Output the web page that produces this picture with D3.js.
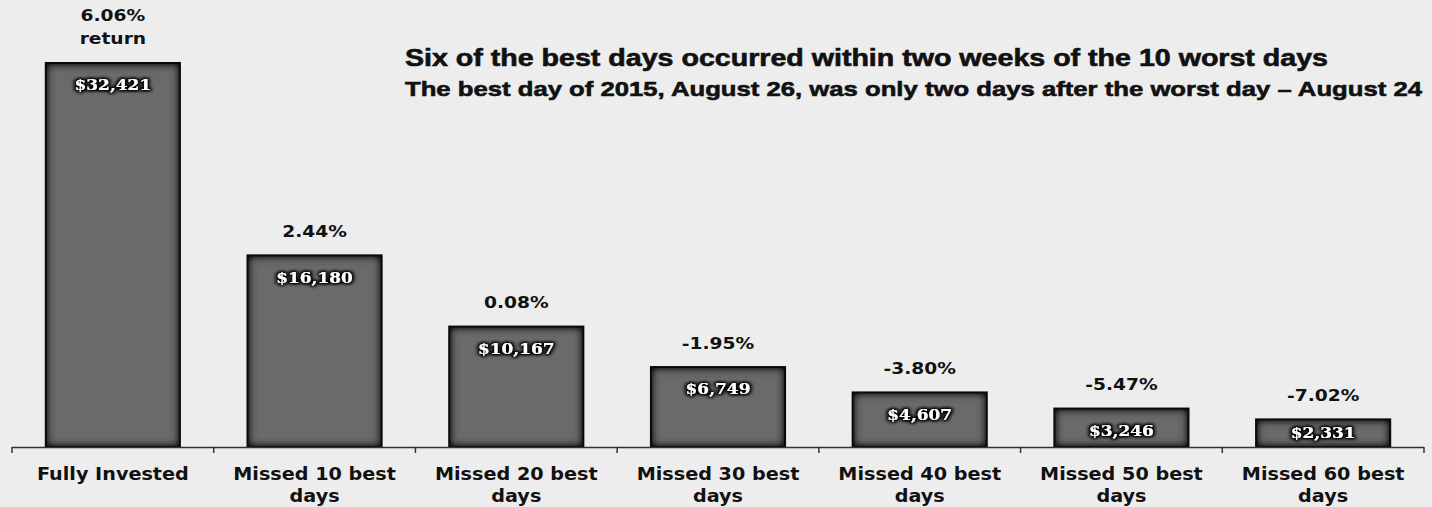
<!DOCTYPE html>
<html>
<head>
<meta charset="utf-8">
<script src="https://cdn.jsdelivr.net/npm/d3@7"></script>
<style>
  body { margin: 0; background: #ededed; }
  svg { display: block; }
</style>
</head>
<body>
<div id="container"></div>
<script>
const categories = ["Fully Invested", "Missed 10 best days", "Missed 20 best days", "Missed 30 best days",
    "Missed 40 best days", "Missed 50 best days", "Missed 60 best days"]
const values = [32421, 16180, 10167, 6749, 4607, 3246, 2331]
const returns = ["6.06%", "2.44%", "0.08%", "-1.95%", "-3.80%", "-5.47%", "-7.02%"]
const titleLines = ["Six of the best days occurred within two weeks of the 10 worst days",
    "The best day of 2015,  August 26, was only two days after the worst day \u2013 August 24"]

const width = 1432, height = 507
const baseY = 447
const stretch = 1.13   // the picture's text looks widened

const svg = d3.select("#container").append("svg")
    .attr("width", width)
    .attr("height", height)

svg.append("rect").attr("width", width).attr("height", height).attr("fill", "#ededed")

const defs = svg.append("defs")

// inner shadow for the bars
const inner = defs.append("filter").attr("id", "inner")
    .attr("filterUnits", "userSpaceOnUse")
    .attr("x", 0).attr("y", 0).attr("width", width).attr("height", height)
inner.append("feComponentTransfer").attr("in", "SourceAlpha").attr("result", "inv")
    .append("feFuncA").attr("type", "table").attr("tableValues", "1 0")
inner.append("feGaussianBlur").attr("in", "inv").attr("stdDeviation", 4).attr("result", "blur")
inner.append("feComposite").attr("in", "blur").attr("in2", "SourceAlpha").attr("operator", "in").attr("result", "shadow")
const im = inner.append("feMerge")
im.append("feMergeNode").attr("in", "SourceGraphic")
im.append("feMergeNode").attr("in", "shadow")
im.append("feMergeNode").attr("in", "shadow")
im.append("feMergeNode").attr("in", "shadow")

// dark glow behind white value labels
const glow = defs.append("filter").attr("id", "glow")
    .attr("x", "-20%").attr("y", "-50%").attr("width", "140%").attr("height", "200%")
glow.append("feMorphology").attr("in", "SourceAlpha").attr("operator", "dilate").attr("radius", 1).attr("result", "thick")
glow.append("feGaussianBlur").attr("in", "thick").attr("stdDeviation", 1.8).attr("result", "blur")
const gm = glow.append("feMerge")
gm.append("feMergeNode").attr("in", "blur")
gm.append("feMergeNode").attr("in", "blur")
gm.append("feMergeNode").attr("in", "SourceGraphic")

const x = d3.scaleBand()
    .domain(categories)
    .range([12, 1424])
    .paddingInner(0.335)
    .paddingOuter(0.1675)

const y = d3.scaleLinear()
    .domain([0, 32421])
    .range([baseY, 63])

const cx = c => x(c) + x.bandwidth() / 2
const data = categories.map((c, i) => ({cat: c, value: values[i], ret: returns[i]}))

// bars: each one filtered on its own so the shadow sits inside it
svg.append("g")
    .selectAll("rect")
    .data(data)
    .join("rect")
    .attr("x", d => x(d.cat))
    .attr("y", d => y(d.value))
    .attr("width", x.bandwidth())
    .attr("height", d => baseY - y(d.value))
    .attr("fill", "#6b6b6b")
    .attr("filter", "url(#inner)")

svg.append("g")
    .selectAll("rect")
    .data(data)
    .join("rect")
    .attr("x", d => x(d.cat))
    .attr("y", d => y(d.value))
    .attr("width", x.bandwidth())
    .attr("height", d => baseY - y(d.value))
    .attr("fill", "none")
    .attr("stroke", "#0a0a0a")
    .attr("stroke-width", 2)

// value labels
svg.append("g")
    .selectAll("text")
    .data(data)
    .join("text")
    .attr("transform", d => `translate(${cx(d.cat)},${Math.min(y(d.value) + 22, baseY - 14)}) scale(${stretch},1)`)
    .attr("dy", "0.35em")
    .attr("text-anchor", "middle")
    .attr("fill", "#fff")
    .attr("font-family", "'DejaVu Serif', serif")
    .attr("font-weight", "bold")
    .attr("font-size", 15)
    .attr("filter", "url(#glow)")
    .text(d => "$" + d3.format(",")(d.value))

// return labels
const retG = svg.append("g")
    .attr("font-family", "'DejaVu Sans', Verdana, sans-serif")
    .attr("font-weight", "bold")
    .attr("font-size", 16.5)
    .attr("fill", "#111")
    .attr("text-anchor", "middle")

retG.selectAll("text.ret")
    .data(data)
    .join("text")
    .attr("class", "ret")
    .attr("transform", (d, i) => `translate(${cx(d.cat)},${i === 0 ? 15 : y(d.value) - 24}) scale(${stretch},1)`)
    .attr("dy", "0.35em")
    .text(d => d.ret)

retG.append("text")
    .attr("transform", `translate(${cx(categories[0])},38) scale(${stretch},1)`)
    .attr("dy", "0.35em")
    .text("return")

// axis
const axis = svg.append("g").attr("stroke", "#333")
axis.append("line")
    .attr("x1", x.range()[0]).attr("x2", x.range()[1])
    .attr("y1", baseY + 0.5).attr("y2", baseY + 0.5)
    .attr("stroke-width", 1.5)
axis.selectAll("line.tick")
    .data(d3.range(categories.length + 1))
    .join("line")
    .attr("class", "tick")
    .attr("x1", i => x.range()[0] + i * x.step())
    .attr("x2", i => x.range()[0] + i * x.step())
    .attr("y1", baseY)
    .attr("y2", baseY + 6)
    .attr("stroke-width", 1.5)

// category labels
const catText = svg.append("g")
    .attr("font-family", "'DejaVu Sans', Verdana, sans-serif")
    .attr("font-weight", "bold")
    .attr("font-size", 17)
    .attr("fill", "#111")
    .attr("text-anchor", "middle")
    .selectAll("text")
    .data(categories)
    .join("text")
    .attr("transform", d => `translate(${cx(d)},474) scale(${stretch},1)`)

catText.each(function (d) {
    const m = d.match(/^(Missed \d+ best) (days)$/)
    const lines = m ? [m[1], m[2]] : [d]
    d3.select(this).selectAll("tspan")
        .data(lines)
        .join("tspan")
        .attr("x", 0)
        .attr("dy", (l, i) => i === 0 ? "0.35em" : 22)
        .text(l => l)
})

// title
svg.append("g")
    .attr("font-family", "'Liberation Sans', Arial, sans-serif")
    .attr("font-weight", "bold")
    .attr("fill", "#111")
    .attr("stroke", "#111")
    .attr("stroke-width", 0.6)
    .selectAll("text")
    .data(titleLines)
    .join("text")
    .attr("x", 405)
    .attr("y", (d, i) => i === 0 ? 58 : 89)
    .attr("dy", "0.35em")
    .attr("font-size", (d, i) => i === 0 ? 23 : 21)
    .attr("textLength", (d, i) => i === 0 ? 923 : 1017)
    .attr("lengthAdjust", "spacingAndGlyphs")
    .text(d => d)
</script>
</body>
</html>
